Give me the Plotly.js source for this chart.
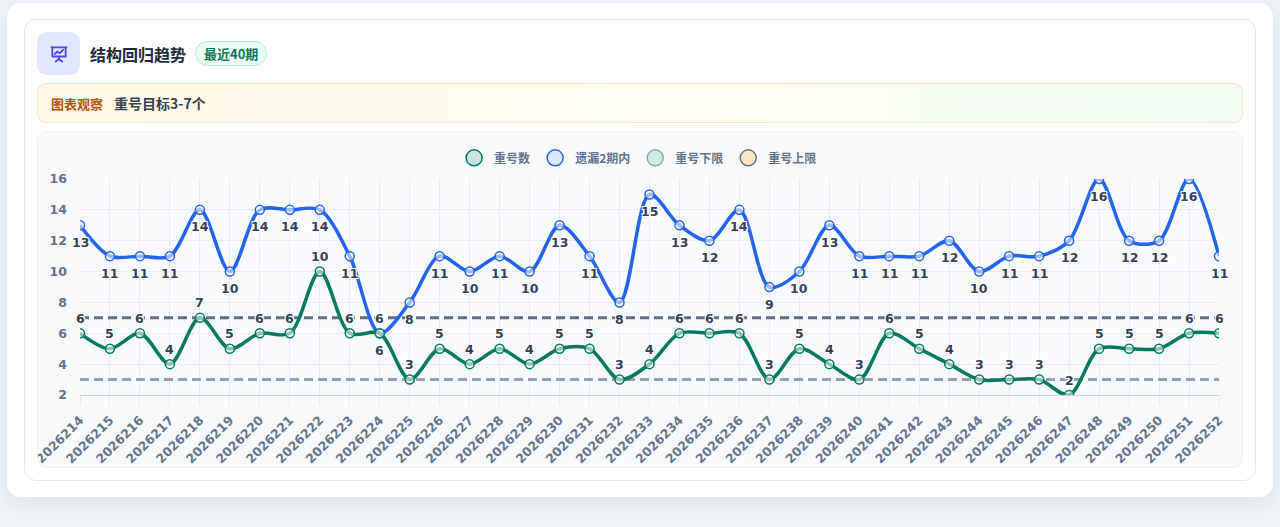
<!DOCTYPE html>
<html>
<head>
<meta charset="utf-8">
<script src="https://cdn.plot.ly/plotly-3.0.1.min.js"></script>
<style>
  html, body { margin: 0; padding: 0; }
  body {
    width: 1280px; height: 527px; overflow: hidden;
    background: #eef1f6;
    font-family: "Noto Sans CJK SC", "DejaVu Sans", sans-serif;
  }
  .outer {
    position: absolute; left: 6px; top: 2px; width: 1268px; height: 496px;
    background: #fff; border-radius: 14px;
    box-shadow: 0 6px 18px rgba(30, 41, 59, 0.06);
    border: 1px solid #e6eaf0; box-sizing: border-box;
  }
  .card {
    position: absolute; left: 24px; top: 19px; width: 1232px; height: 462px;
    background: #fff; border: 1px solid #e3e8ef; border-radius: 12px;
    box-sizing: border-box;
  }
  .head { position: absolute; left: 12px; top: 12px; height: 43px; display: flex; align-items: center; }
  .icon {
    width: 43px; height: 43px; border-radius: 10px; background: #e3e7fd;
    display: flex; align-items: center; justify-content: center;
  }
  .title { margin-left: 10px; font-size: 16px; font-weight: 700; color: #1f2937; }
  .badge {
    margin-left: 9px; padding: 2px 8px; font-size: 13px; font-weight: 700;
    color: #047857; background: #ecfdf5; border: 1px solid #b7ead6; border-radius: 999px;
  }
  .obs {
    position: absolute; left: 12px; top: 63px; width: 1206px; height: 40px;
    border: 1px solid #f8e7b9; border-radius: 9px; box-sizing: border-box;
    background: linear-gradient(90deg, #fff8e6 0%, #fdfdf3 55%, #f1fdf4 100%);
    display: flex; align-items: center; padding-left: 13px;
    font-weight: 700;
  }
  .obs .k { color: #b45309; font-size: 13px; }
  .obs .v { color: #374151; margin-left: 11px; font-size: 14px; }
  .chartbox {
    position: absolute; left: 12px; top: 111px; width: 1206px; height: 337px;
    background: #f8fafc; border: 1px solid #eef1f5; border-radius: 10px;
    box-sizing: border-box; overflow: hidden;
  }
  #chart { position: absolute; left: 0; top: 0; width: 1204px; height: 360px; }
</style>
</head>
<body>
<div class="outer"></div>
<div class="card">
  <div class="head">
    <div class="icon">
      <svg width="20" height="20" viewBox="0 0 24 24" fill="none" stroke="#4f46e5" stroke-width="2.2" stroke-linecap="round" stroke-linejoin="round">
        <path d="M3 4h18"/><path d="M4 4v11h16V4"/><path d="M7 12l3-3 3 2 4-4"/><path d="M12 15v3"/><path d="M8 21l4-3 4 3"/>
      </svg>
    </div>
    <div class="title">结构回归趋势</div>
    <div class="badge">最近40期</div>
  </div>
  <div class="obs"><span class="k">图表观察</span><span class="v">重号目标3-7个</span></div>
  <div class="chartbox"><div id="chart"></div></div>
</div>
<script>
// 期号
const periods = ['2026214','2026215','2026216','2026217','2026218','2026219','2026220','2026221',
  '2026222','2026223','2026224','2026225','2026226','2026227','2026228','2026229','2026230',
  '2026231','2026232','2026233','2026234','2026235','2026236','2026237','2026238','2026239',
  '2026240','2026241','2026242','2026243','2026244','2026245','2026246','2026247','2026248',
  '2026249','2026250','2026251','2026252'];
// 重号数
const repeatCount = [6,5,6,4,7,5,6,6,10,6,6,3,5,4,5,4,5,5,3,4,6,6,6,3,5,4,3,6,5,4,3,3,3,2,5,5,5,6,6];
// 遗漏2期内
const missWithin2 = [13,11,11,11,14,10,14,14,14,11,6,8,11,10,11,10,13,11,8,15,13,12,14,9,10,13,11,11,11,12,10,11,11,12,16,12,12,16,11];
const lowerLimit = 3;
const upperLimit = 7;
const yTicks = [2,4,6,8,10,12,14,16];

const BLUE = '#2563eb', GREEN = '#047a5c';
const tickFont = {family: 'DejaVu Sans, Noto Sans CJK SC', size: 12.5, color: '#64748b', weight: 700};
const halo = 'white 1px 1px 0px, white -1px -1px 0px, white 1px -1px 0px, white -1px 1px 0px, white 0px 1px 0px, white 0px -1px 0px';

function legendDot(name, fill, edge) {
  return {
    x: [null], y: [null], name: name, type: 'scatter', mode: 'markers',
    marker: {size: 16, color: fill, line: {color: edge, width: 1.5}},
    hoverinfo: 'skip'
  };
}

let traces = [
  {
    x: periods, y: periods.map(() => upperLimit), type: 'scatter', mode: 'lines',
    line: {color: '#626d85', width: 3, dash: '9px,5px'}, showlegend: false, hoverinfo: 'skip'
  },
  {
    x: periods, y: periods.map(() => lowerLimit), type: 'scatter', mode: 'lines',
    line: {color: '#959fb6', width: 3, dash: '9px,5px'}, showlegend: false, hoverinfo: 'skip'
  },
  {
    x: periods, y: missWithin2, type: 'scatter', mode: 'lines+markers', name: '遗漏2期内',
    line: {color: BLUE, width: 3.5, shape: 'spline', smoothing: 0.9},
    marker: {size: 9, color: 'rgba(255,255,255,0.55)', line: {color: BLUE, width: 1.5}},
    showlegend: false
  },
  {
    x: periods, y: repeatCount, type: 'scatter', mode: 'lines+markers', name: '重号数',
    line: {color: GREEN, width: 3.5, shape: 'spline', smoothing: 0.9},
    marker: {size: 9, color: 'rgba(255,255,255,0.55)', line: {color: GREEN, width: 1.5}},
    showlegend: false
  },
  legendDot('重号数', '#cde5df', GREEN),
  legendDot('遗漏2期内', '#dde8fc', BLUE),
  legendDot('重号下限', '#c9ede2', '#9aa3b0'),
  legendDot('重号上限', '#fbe6c2', '#6b7280')
];

// category axis: place labels by index
let annotations = [];
const labelFont = {family: 'DejaVu Sans', size: 12.5, color: '#334155', weight: 700, shadow: halo};
periods.forEach((p, i) => {
  annotations.push({x: i, y: missWithin2[i], text: String(missWithin2[i]), showarrow: false,
    yshift: -17, font: labelFont});
  annotations.push({x: i, y: repeatCount[i], text: String(repeatCount[i]), showarrow: false,
    yshift: 15, font: labelFont});
});

let layout = {
  width: 1204, height: 360,
  margin: {l: 42, r: 23, t: 46, b: 97},
  paper_bgcolor: 'rgba(0,0,0,0)',
  plot_bgcolor: 'rgba(0,0,0,0)',
  font: {family: 'DejaVu Sans, Noto Sans CJK SC', color: '#64748b'},
  showlegend: true,
  legend: {
    orientation: 'h', xref: 'paper', yref: 'paper',
    x: 0.49, xanchor: 'center', y: 1.093, yanchor: 'middle',
    font: {family: 'Noto Sans CJK SC', size: 12, color: '#64748b', weight: 700},
    itemwidth: 30, bgcolor: 'rgba(0,0,0,0)', tracegroupgap: 0
  },
  xaxis: {
    type: 'category', range: [0, periods.length - 1],
    tickangle: -45, tickfont: tickFont,
    showgrid: true, gridcolor: '#e9edf3', gridwidth: 1,
    showline: true, linecolor: '#ccd3dd', linewidth: 1,
    ticks: 'outside', ticklen: 10, tickcolor: '#e6eaf0', ticklabelstandoff: 2,
    fixedrange: true, automargin: false
  },
  yaxis: {
    range: [2, 16], tickvals: yTicks, tickfont: tickFont,
    showgrid: true, gridcolor: '#e9edf3', gridwidth: 1,
    zeroline: false, showline: false, ticks: '', ticklabelstandoff: 12,
    fixedrange: true, automargin: false
  },
  annotations: annotations,
  hovermode: false
};

Plotly.newPlot('chart', traces, layout, {displayModeBar: false, staticPlot: true});
</script>
</body>
</html>
